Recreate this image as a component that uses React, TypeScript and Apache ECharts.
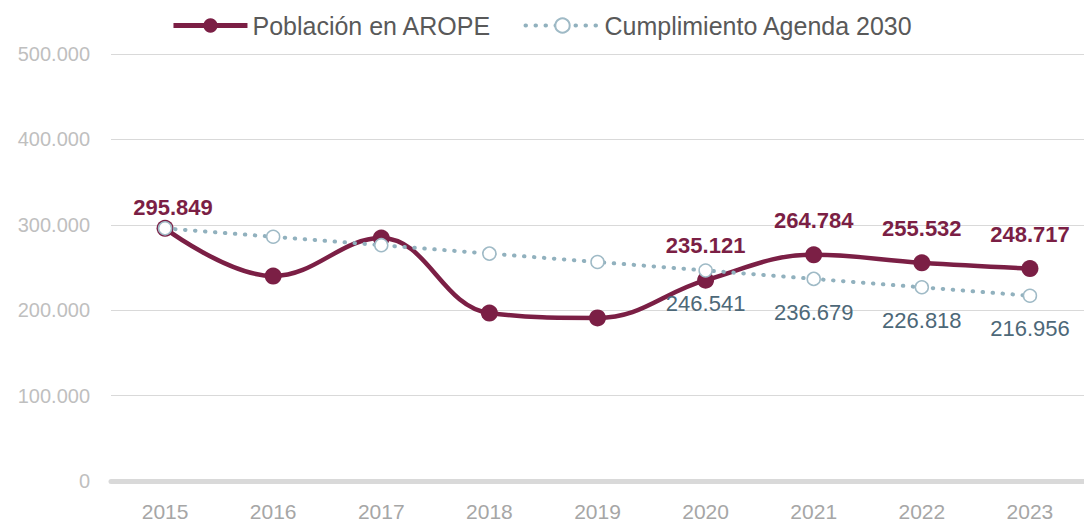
import React, { useEffect, useRef } from "react";
import * as echarts from "echarts";

const years = ["2015", "2016", "2017", "2018", "2019", "2020", "2021", "2022", "2023"];
const arope = [295849, 240000, 284500, 196700, 190900, 235121, 264784, 255532, 248717];
const agenda = [295849, 285987, 276125, 266264, 256402, 246541, 236679, 226818, 216956];
const aropeLabeled = [0, 5, 6, 7, 8];
const agendaLabeled = [5, 6, 7, 8];

const fmt = (v: number) => String(Math.round(v)).replace(/\B(?=(\d{3})+(?!\d))/g, ".");

const MAROON = "#7b1f45";
const TEAL = "#91b1be";

export default function App() {
  const ref = useRef<HTMLDivElement>(null);
  useEffect(() => {
    const chart = echarts.init(ref.current!, undefined, { renderer: "svg" });
    chart.setOption({
      animation: false,
      textStyle: { fontFamily: "Liberation Sans, Arial, sans-serif" },
      legend: {
        top: 8,
        left: "center",
        itemWidth: 74,
        itemHeight: 18,
        itemGap: 32,
        textStyle: { fontSize: 25, color: "#595959" },
        data: [
          { name: "Población en AROPE", lineStyle: { width: 5 } },
          { name: "Cumplimiento Agenda 2030", lineStyle: { width: 4 } },
        ],
      },
      grid: { left: 111, width: 977, top: 54, bottom: 42 },
      xAxis: {
        type: "category",
        data: years,
        boundaryGap: true,
        axisLine: { show: true, lineStyle: { color: "#d9d9d9", width: 5 } },
        axisTick: { show: false },
        axisLabel: {
          color: "#a6a6a6",
          fontSize: 21,
          margin: 20,
        },
      },
      yAxis: {
        type: "value",
        min: 0,
        max: 500000,
        interval: 100000,
        axisLine: { show: false },
        axisTick: { show: false },
        splitLine: { lineStyle: { color: "#d9d9d9", width: 1 } },
        axisLabel: {
          color: "#bfbfbf",
          fontSize: 20,
          margin: 21,
          formatter: (v: number) => fmt(v),
        },
      },
      series: [
        {
          name: "Población en AROPE",
          type: "line",
          smooth: 0.4,
          symbol: "circle",
          symbolSize: 17,
          z: 2,
          lineStyle: { color: MAROON, width: 4.5 },
          itemStyle: { color: MAROON },
          data: arope.map((v, i) => ({
            value: v,
            label: {
              show: aropeLabeled.includes(i),
              position: "top",
              distance: 15,
              offset: i === 0 ? [8, 14] : [0, 0],
              formatter: (p: any) => fmt(p.value),
              color: MAROON,
              fontSize: 22,
              fontWeight: "bold",
            },
          })),
        },
        {
          name: "Cumplimiento Agenda 2030",
          type: "line",
          smooth: false,
          symbol: "circle",
          symbolSize: 13,
          z: 3,
          lineStyle: { color: TEAL, width: 4, type: [0.5, 9.5], cap: "round" },
          itemStyle: { color: "#ffffff", borderColor: "#9fbac6", borderWidth: 1.5 },
          data: agenda.map((v, i) => ({
            value: v,
            label: {
              show: agendaLabeled.includes(i),
              position: "bottom",
              distance: 15,
              formatter: (p: any) => fmt(p.value),
              color: "#4d6878",
              fontSize: 22,
            },
          })),
        },
      ],
    });
    return () => chart.dispose();
  }, []);
  return <div ref={ref} style={{ width: 1084, height: 523, position: "absolute", left: 0, top: 0 }} />;
}
